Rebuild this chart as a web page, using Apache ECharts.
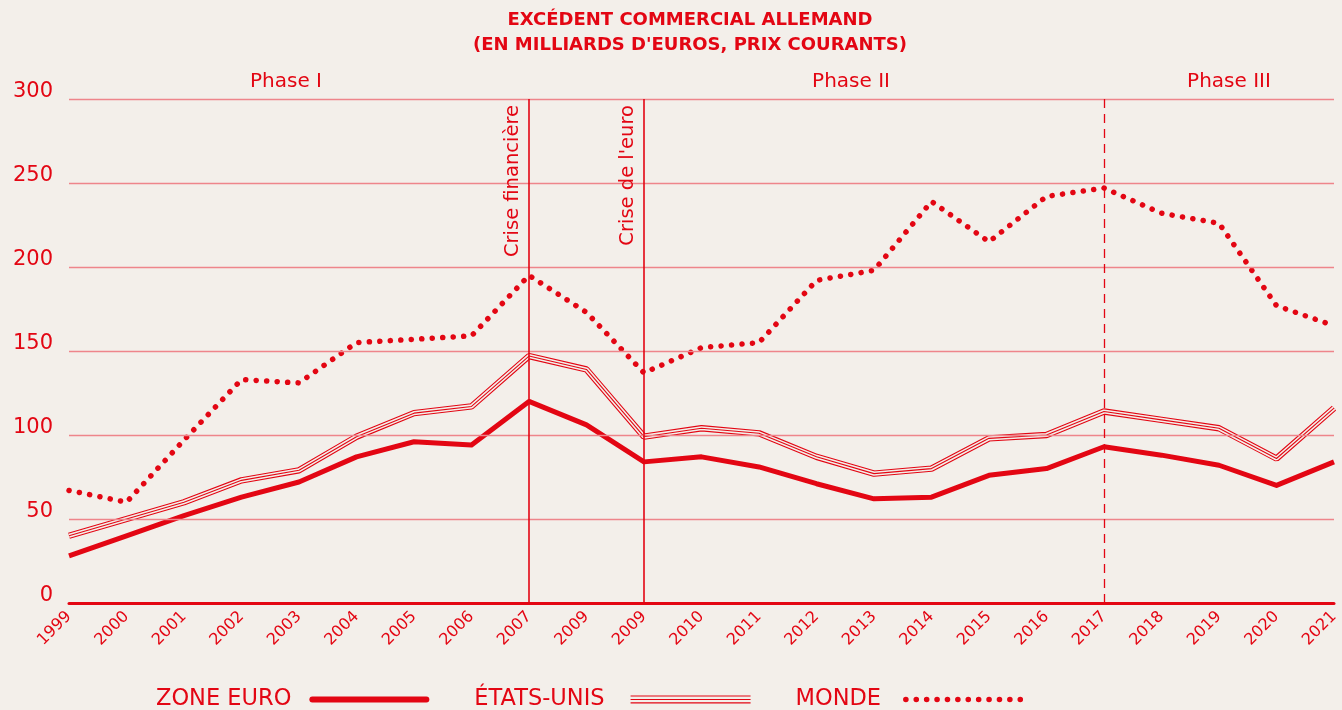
<!DOCTYPE html>
<html lang="fr">
<head>
<meta charset="UTF-8">
<title>Excédent commercial allemand</title>
<style>
html,body{margin:0;padding:0;background:#f3efea;height:100%;overflow:hidden;}
#main{width:1342px;height:710px;}
</style>
</head>
<body>
<div id="main"></div>
<script src="https://cdn.jsdelivr.net/npm/echarts@6/dist/echarts.min.js"></script>
<script>
// données (milliards d'euros)
var years = ['1999','2000','2001','2002','2003','2004','2005','2006','2007','2009','2009','2010','2011','2012','2013','2014','2015','2016','2017','2018','2019','2020','2021'];
var zoneEuro = [28, 40, 52, 63, 72, 87, 96, 94, 120, 106, 84, 87, 81, 71, 62, 63, 76, 80, 93, 88, 82, 70, 84];
var etatsUnis = [40, 50, 60, 73, 79, 99, 113, 117, 147, 139, 99, 104, 101, 87, 77, 80, 98, 100, 114, 109, 104, 86, 116];
var monde = [67, 60, 97, 133, 131, 155, 157, 159, 195, 173, 137, 152, 155, 192, 198, 239, 215, 242, 247, 232, 226, 177, 165];
var yTicks = [0, 50, 100, 150, 200, 250, 300];
var crises = [{idx: 8, text: 'Crise financière'}, {idx: 10, text: "Crise de l'euro"}];
var phase3Idx = 18;
var phases = [{text: 'Phase I', x: 286}, {text: 'Phase II', x: 851}, {text: 'Phase III', x: 1229}];

var red = '#e30613';
var gridCol = '#ee858b';
var bg = '#f3efea';
var font = '"DejaVu Sans", Verdana, sans-serif';

var chart = echarts.init(document.getElementById('main'));

// icônes de légende
var euroIcon = 'path://M3,0H117A3,3,0,0,1,117,6H3A3,3,0,0,1,3,0Z';
var usIcon = 'path://M0,0H120V1.1H0Z M0,3.4H120V4.5H0Z M0,6.8H120V8H0Z';
var mondeIcon = 'path://';
for (var k = 0; k < 12; k++) {
	var cx = 2.8 + k * 10.4, r = 2.8;
	mondeIcon += 'M' + (cx - r) + ',3a' + r + ',' + r + ' 0 1,0 ' + (2 * r) + ',0a' + r + ',' + r + ' 0 1,0 ' + (-2 * r) + ',0Z';
}

// traits verticaux : crises + début phase III
var markData = crises.map(function (c) {
	return {xAxis: c.idx, label: {formatter: c.text}};
});
markData.push({xAxis: phase3Idx, label: {show: false}, lineStyle: {type: [9, 6], width: 1.3}});

// lignes horizontales de la grille
var gridLines = yTicks.filter(function (v) { return v > 0; }).map(function (v) {
	return {yAxis: v};
});

var option = {
	backgroundColor: bg,
	animation: false,
	title: {
		text: 'EXCÉDENT COMMERCIAL ALLEMAND\n(EN MILLIARDS D\'EUROS, PRIX COURANTS)',
		left: 685,
		top: 3,
		textAlign: 'center',
		textStyle: {color: red, fontSize: 18, fontWeight: 'bold', fontFamily: font, lineHeight: 25}
	},
	grid: {left: 69, right: 8, top: 99, bottom: 107},
	legend: {
		top: 683,
		left: 151,
		align: 'right',
		selectedMode: false,
		itemWidth: 120,
		itemHeight: 8,
		itemGap: 45,
		textStyle: {color: red, fontSize: 22.5, fontFamily: font},
		data: [
			{name: 'ZONE EURO', icon: euroIcon, textStyle: {padding: [0, 13, 0, 0]}},
			{name: 'ÉTATS-UNIS', icon: usIcon, textStyle: {padding: [0, 21, 0, 0]}},
			{name: 'MONDE', icon: mondeIcon, textStyle: {padding: [0, 17, 0, 0]}}
		]
	},
	graphic: phases.map(function (p) {
		return {
			type: 'text', x: p.x, y: 82,
			style: {text: p.text, fill: red, font: '20px ' + font, align: 'center', verticalAlign: 'middle'}
		};
	}),
	xAxis: {
		type: 'category',
		boundaryGap: false,
		data: years,
		axisLine: {lineStyle: {color: red, width: 3}},
		axisTick: {show: false},
		axisLabel: {interval: 0, rotate: 45, color: red, fontSize: 16, fontFamily: font, margin: 11}
	},
	yAxis: {
		type: 'value',
		min: yTicks[0],
		max: yTicks[yTicks.length - 1],
		interval: yTicks[1] - yTicks[0],
		axisLine: {show: false},
		axisTick: {show: false},
		axisLabel: {color: red, fontSize: 21, fontFamily: font, margin: 16, verticalAlign: 'bottom', lineHeight: 15},
		splitLine: {show: false}
	},
	series: [
		{
			name: 'MONDE', type: 'line', data: monde, symbol: 'none', silent: true,
			itemStyle: {color: red},
			lineStyle: {color: red, width: 5.5, type: [0.1, 10.4], cap: 'round'},
			markLine: {
				silent: true,
				symbol: 'none',
				label: {show: false},
				lineStyle: {color: gridCol, width: 1.3, type: 'solid'},
				data: gridLines
			}
		},
		{
			name: 'ÉTATS-UNIS', type: 'line', data: etatsUnis, symbol: 'none', silent: true,
			itemStyle: {color: red},
			lineStyle: {color: red, width: 6.4}
		},
		{
			name: 'us-gap', type: 'line', data: etatsUnis, symbol: 'none', silent: true,
			lineStyle: {color: bg, width: 4.2}
		},
		{
			name: 'us-core', type: 'line', data: etatsUnis, symbol: 'none', silent: true,
			lineStyle: {color: red, width: 1.1}
		},
		{
			name: 'ZONE EURO', type: 'line', data: zoneEuro, symbol: 'none', silent: true,
			itemStyle: {color: red},
			lineStyle: {color: red, width: 5, join: 'round'},
			markLine: {
				silent: true,
				symbol: 'none',
				lineStyle: {color: red, width: 1.6, type: 'solid'},
				label: {position: 'insideEndTop', color: red, fontSize: 19.5, fontFamily: font, distance: 6},
				data: markData
			}
		}
	]
};
chart.setOption(option);
</script>
</body>
</html>
